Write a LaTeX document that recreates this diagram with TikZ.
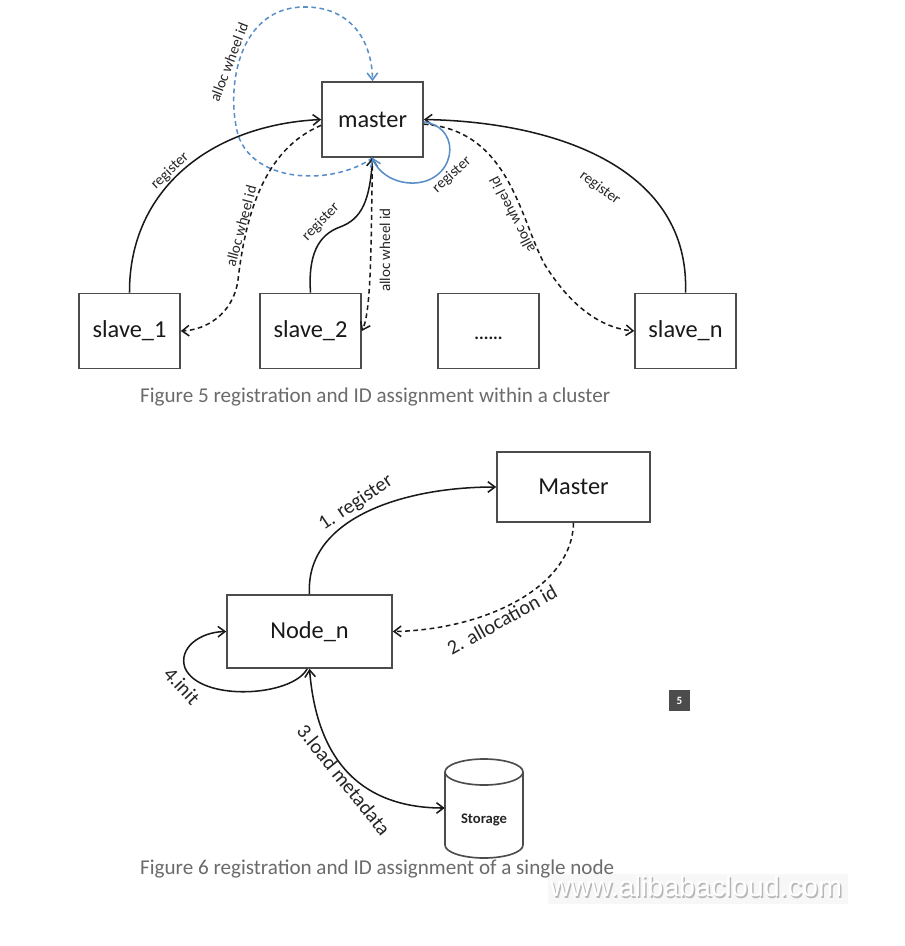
\documentclass[tikz,border=0pt]{standalone}
\usepackage{fontspec}
\setmainfont{Carlito}
\newfontfamily\wmfont{Liberation Sans}
\usetikzlibrary{arrows.meta}
\definecolor{loopblue}{RGB}{88,142,200}
\def\moredots{\raisebox{-7.5pt}[0pt][0pt]{\fontsize{15}{17}\selectfont\bfseries ......}}

\begin{document}
\begin{tikzpicture}[x=0.03cm, y=-0.03cm, >={Straight Barb[length=6pt,width=9pt]},
  box/.style={draw=black!70, line width=1.4pt, text=black!90, minimum width=3.03cm, minimum height=2.25cm, font=\fontsize{20.8}{24}\selectfont},
  lab/.style={text=black!85, inner sep=0pt, font=\fontsize{12.8}{15}\selectfont},
  biglab/.style={text=black!85, inner sep=0pt, font=\fontsize{17.4}{20}\selectfont},
  figcap/.style={text=black!58, anchor=west, inner sep=0pt, font=\fontsize{18}{21}\selectfont},
  con/.style={->, line width=1.3pt, black!90},
  dsh/.style={con, dash pattern=on 4pt off 3pt}]
  \useasboundingbox (0,0) rectangle (905,946);
  \fill[white] (0,0) rectangle (905,946);

  \node[box] (master) at (372.5,119.5) {master};
  \foreach \n/\x/\t in {s1/129.5/slave\_1, s2/310.5/slave\_2, sdots/488.5/\moredots, sn/685.5/slave\_n} {
    \node[box] (\n) at (\x,331) {\t};
  }

  \draw[dsh, loopblue] (master.south) .. controls (335,185) and (255,185) .. (238,135) .. controls (225,85) and (240,8) .. (303,7) .. controls (350,6) and (372,40) .. (master.north);
  \draw[con] (s1.north) .. controls (129,190) and (210,125) .. (master.west);
  \draw[dsh] ([yshift=-5pt]master.west) .. controls (262,150) and (245,220) .. (238,280) .. controls (233,315) and (205,330) .. (s1.east);
  \draw[con] (s2.north) .. controls (308,255) and (318,235) .. (340,227) .. controls (362,219) and (370,200) .. (master.south);
  \draw[dsh] (master.south) .. controls (371,230) and (372,310) .. (s2.east);
  \draw[con] (sn.north) .. controls (690,170) and (560,122) .. (master.east);
  \draw[dsh] ([yshift=-4pt]master.east) .. controls (510,130) and (520,220) .. (545,265) .. controls (570,305) and (600,328) .. (sn.west);
  \draw[con, loopblue] ([yshift=-2pt]master.east) .. controls (465,128) and (455,185) .. (410,183) .. controls (392,182) and (378,172) .. (master.south);

  \node[lab, rotate=44] (reg1) at (170,171) {register};
  \node[lab, rotate=75] (alloc1) at (241,226) {alloc wheel id};
  \node[lab, rotate=46] (reg2) at (321,222) {register};
  \node[lab, rotate=90] (alloc2) at (385,250) {alloc wheel id};
  \node[lab, rotate=42] (regm) at (452,175) {register};
  \node[lab, rotate=69] (allocm) at (229,62) {alloc wheel id};
  \node[lab, rotate=-36] (regn) at (600,188) {register};
  \node[lab, rotate=117] (allocn) at (512,215) {alloc wheel id};
  \node[figcap] (cap5) at (140,397) {Figure 5 registration and ID assignment within a cluster};

  \node[box, minimum width=4.59cm, minimum height=2.1cm] (mst) at (573.5,487) {Master};
  \node[box, minimum width=4.95cm, minimum height=2.19cm] (nd) at (309.5,631.5) {Node\_n};
  \node[minimum width=2.34cm, minimum height=3cm, inner sep=0pt] (storage) at (484,808) {};
  \draw[black!70, line width=1.4pt] (484,772) ellipse[x radius=1.17cm, y radius=0.39cm];
  \draw[black!70, line width=1.4pt] (445,772) -- (445,845) arc[start angle=180, end angle=360, x radius=1.17cm, y radius=0.39cm] -- (523,772);
  \node[font=\fontsize{12.5}{15}\selectfont\bfseries, text=black!85] (storetext) at (484,820) {Storage};

  \draw[con] (nd.north) .. controls (305,520) and (400,487) .. (mst.west);
  \draw[dsh] (mst.south) .. controls (572,590) and (480,630) .. (nd.east);
  \draw[con] ([xshift=-2pt]nd.south) .. controls (292,697) and (200,702) .. (185,668) .. controls (178,648) and (200,632) .. (nd.west);
  \draw[con, <->] (nd.south) .. controls (318,775) and (375,808) .. (storage.west);

  \node[biglab, rotate=34] (reg6) at (356,503) {1. register};
  \node[biglab, rotate=29] (alloc6) at (502,620) {2. allocation id};
  \node[biglab, rotate=-47] (init6) at (182,686) {4.init};
  \node[biglab, rotate=-51] (load6) at (344,780) {3.load metadata};

  \node[fill=black!70, text=white, minimum size=0.65cm, inner sep=0pt, font=\fontsize{9.5}{11}\selectfont\bfseries] (badge) at (679.5,700.5) {5};
  \fill[black!3] (548,874) rectangle (848,904);
  \node[text=black!28, font=\wmfont\fontsize{24.5}{28}\selectfont] (wmshadow) at (697.5,888) {www.alibabacloud.com};
  \node[text=white, font=\wmfont\fontsize{24.5}{28}\selectfont] (wm) at (696,886.5) {www.alibabacloud.com};
  \node[figcap] (cap6) at (140,869) {Figure 6 registration and ID assignment of a single node};
\end{tikzpicture}
\end{document}
